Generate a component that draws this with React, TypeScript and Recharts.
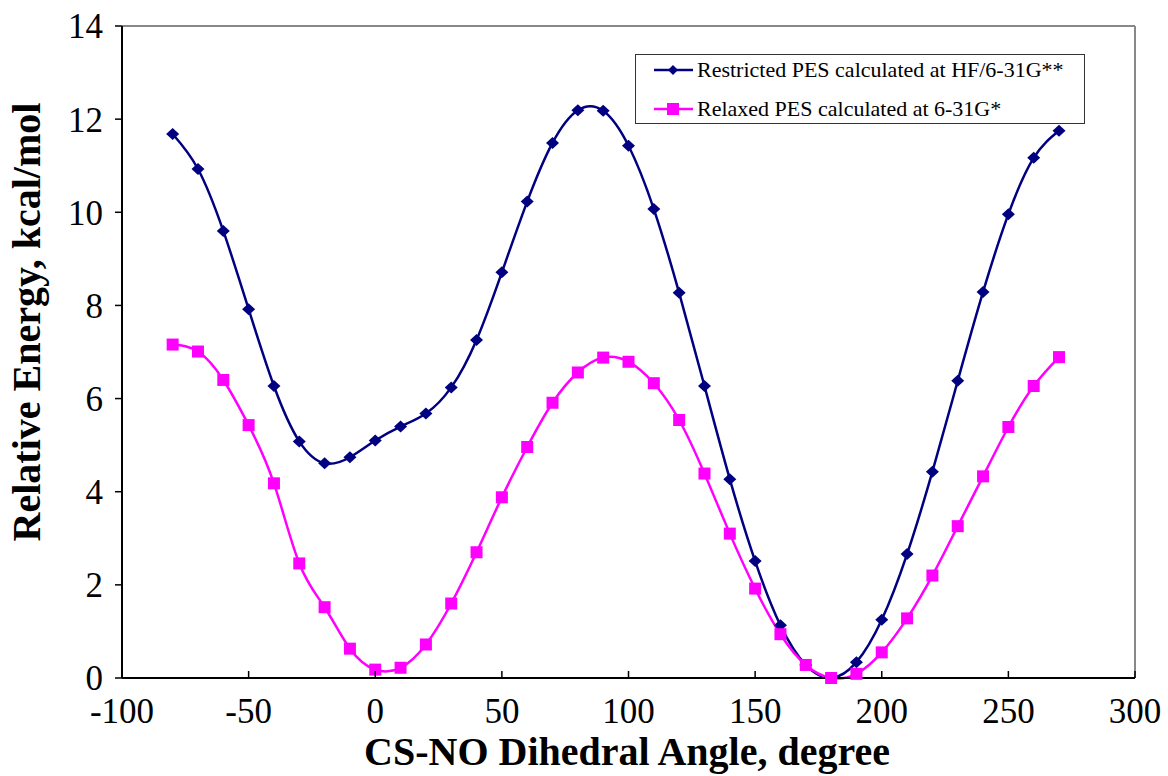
import React from "react";
import { LineChart, Line, XAxis, YAxis, ReferenceLine, Legend, Label } from "recharts";

// dihedral angle (degree)
const angles = [
  -80, -70, -60, -50, -40, -30, -20, -10, 0, 10, 20, 30, 40, 50, 60, 70, 80, 90,
  100, 110, 120, 130, 140, 150, 160, 170, 180, 190, 200, 210, 220, 230, 240, 250, 260, 270,
];

// Restricted PES, HF/6-31G** (kcal/mol)
const restricted = [
  11.68, 10.93, 9.6, 7.92, 6.27, 5.08, 4.61, 4.74, 5.1, 5.4, 5.68, 6.24, 7.26, 8.71, 10.23, 11.49, 12.19, 12.18,
  11.43, 10.07, 8.27, 6.27, 4.27, 2.51, 1.13, 0.28, 0.0, 0.34, 1.25, 2.66, 4.43, 6.38, 8.29, 9.96, 11.17, 11.75,
];

// Relaxed PES, 6-31G* (kcal/mol)
const relaxed = [
  7.16, 7.01, 6.4, 5.43, 4.18, 2.46, 1.52, 0.63, 0.18, 0.22, 0.72, 1.6, 2.7, 3.88, 4.96, 5.91, 6.56, 6.88,
  6.79, 6.33, 5.54, 4.39, 3.1, 1.92, 0.94, 0.28, 0.0, 0.09, 0.55, 1.28, 2.2, 3.26, 4.33, 5.39, 6.27, 6.89,
];

const xTicks = [-100, -50, 0, 50, 100, 150, 200, 250, 300];
const yTicks = [0, 2, 4, 6, 8, 10, 12, 14];

const seriesNames = [
  "Restricted PES calculated at HF/6-31G**",
  "Relaxed PES calculated at 6-31G*",
];
const BLUE = "#000080";
const MAGENTA = "#FF00FF";
const FONT = "'Liberation Serif', 'Times New Roman', serif";

const data = angles.map((a, i) => ({
  angle: a,
  restricted: restricted[i],
  relaxed: relaxed[i],
}));

const Diamond = (props: any) => {
  const { cx, cy } = props;
  if (cx == null || cy == null) return null;
  return (
    <polygon
      points={`${cx},${cy - 6} ${cx + 6.5},${cy} ${cx},${cy + 6} ${cx - 6.5},${cy}`}
      fill={BLUE}
    />
  );
};

const Square = (props: any) => {
  const { cx, cy } = props;
  if (cx == null || cy == null) return null;
  return <rect x={cx - 6} y={cy - 6} width={12} height={12} fill={MAGENTA} />;
};

// x ticks point inward (up), label below
const XTick = (props: any) => {
  const { x, y, payload } = props;
  return (
    <g>
      <line x1={x} x2={x} y1={y} y2={y - 7} stroke="#000" strokeWidth={1.5} />
      <text x={x} y={y + 45} textAnchor="middle" fontSize={35} fontFamily={FONT} fill="#000">
        {payload.value}
      </text>
    </g>
  );
};

const renderLegend = () => (
  <div
    style={{
      border: "1px solid #333",
      background: "#fff",
      width: 450,
      height: 70,
      boxSizing: "border-box",
      fontFamily: FONT,
      fontSize: 22,
      color: "#000",
      paddingTop: 0,
    }}
  >
    {seriesNames.map((name, i) => (
      <div key={name} style={{ display: "flex", alignItems: "center", height: 30, marginTop: i ? 9 : 0 }}>
        <svg width={61} height={20} style={{ flex: "none" }}>
          <line x1={18} x2={57} y1={10} y2={10} stroke={i ? MAGENTA : BLUE} strokeWidth={2.5} />
          {i ? (
            <rect x={31} y={4} width={12} height={12} fill={MAGENTA} />
          ) : (
            <polygon points="37,5 42,10 37,15 32,10" fill={BLUE} />
          )}
        </svg>
        <span style={{ whiteSpace: "nowrap" }}>{name}</span>
      </div>
    ))}
  </div>
);

export default function App() {
  return (
    <div style={{ position: "absolute", left: 0, top: 0, background: "#fff" }}>
      <LineChart
        width={1168}
        height={776}
        data={data}
        margin={{ top: 26, right: 33, left: 0, bottom: 38 }}
      >
        <XAxis
          dataKey="angle"
          type="number"
          domain={[-100, 300]}
          ticks={xTicks}
          tickSize={0}
          tickMargin={0}
          tickLine={false}
          tick={<XTick />}
          axisLine={{ stroke: "#000", strokeWidth: 2 }}
          height={60}
        >
          <Label
            content={() => (
              <text
                x={627}
                y={765}
                textAnchor="middle"
                fontSize={40}
                fontWeight="bold"
                fontFamily={FONT}
                fill="#000"
              >
                CS-NO Dihedral Angle, degree
              </text>
            )}
          />
        </XAxis>
        <YAxis
          type="number"
          domain={[0, 14]}
          ticks={yTicks}
          width={122}
          tickSize={7}
          tickMargin={12}
          tickLine={{ stroke: "#000", strokeWidth: 1.5 }}
          axisLine={{ stroke: "#000", strokeWidth: 2 }}
          tick={{ fontSize: 35, fontFamily: FONT, fill: "#000" }}
        >
          <Label
            content={() => (
              <text
                x={40}
                y={322}
                transform="rotate(-90, 40, 322)"
                textAnchor="middle"
                fontSize={40}
                fontWeight="bold"
                fontFamily={FONT}
                fill="#000"
              >
                Relative Energy, kcal/mol
              </text>
            )}
          />
        </YAxis>
        <ReferenceLine y={14} stroke="#888" strokeWidth={2} />
        <ReferenceLine x={300} stroke="#888" strokeWidth={2} />
        <Legend
          content={renderLegend}
          layout="horizontal"
          verticalAlign="middle"
          align="center"
          wrapperStyle={{ position: "absolute", top: 54, left: 635, width: 450 }}
        />
        <Line
          type="natural"
          dataKey="restricted"
          name={seriesNames[0]}
          stroke={BLUE}
          strokeWidth={2.5}
          dot={<Diamond />}
          activeDot={false}
          isAnimationActive={false}
        />
        <Line
          type="natural"
          dataKey="relaxed"
          name={seriesNames[1]}
          stroke={MAGENTA}
          strokeWidth={2.5}
          dot={<Square />}
          activeDot={false}
          isAnimationActive={false}
        />
      </LineChart>
    </div>
  );
}
